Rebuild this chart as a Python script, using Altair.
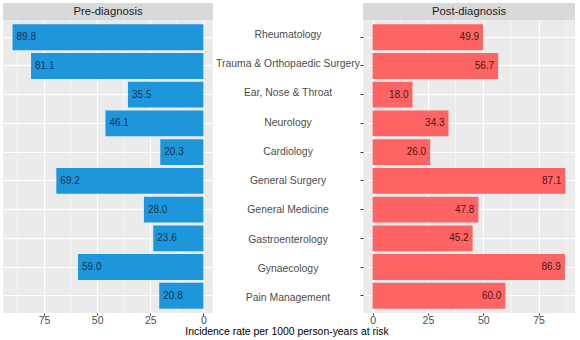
import altair as alt
import pandas as pd

categories = ["Rheumatology", "Trauma & Orthopaedic Surgery", "Ear, Nose & Throat",
              "Neurology", "Cardiology", "General Surgery", "General Medicine",
              "Gastroenterology", "Gynaecology", "Pain Management"]
pre_values = [89.8, 81.1, 35.5, 46.1, 20.3, 69.2, 28.0, 23.6, 59.0, 20.8]
post_values = [49.9, 56.7, 18.0, 34.3, 26.0, 87.1, 47.8, 45.2, 86.9, 60.0]
panel_titles = ["Pre-diagnosis", "Post-diagnosis"]
x_title = "Incidence rate per 1000 person-years at risk"
major_ticks = [0, 25, 50, 75]
minor_grid = [12.5, 37.5, 62.5, 87.5]

df = pd.DataFrame({"category": categories, "pre": pre_values, "post": post_values})
minor_df = pd.DataFrame({"v": minor_grid})

FONT = "Liberation Sans"
H = 293
WL, WM, WR = 210, 150, 212
HEADER = 17

yscale = alt.Scale(domain=categories, paddingInner=0.1, paddingOuter=0.15)


def xaxis():
    return alt.Axis(
        values=major_ticks, format="d", title=None, domain=False,
        tickColor="#333333", tickSize=2,
        gridColor="white", gridWidth=1.2,
        labelColor="#4D4D4D", labelFontSize=10.5, labelPadding=0.5, labelFont=FONT,
    )


def yaxis(orient):
    return alt.Axis(orient=orient, labels=False, title=None, domain=False,
                    ticks=True, tickSize=3, tickColor="#333333",
                    grid=True, gridColor="white", gridWidth=1.2, bandPosition=0.5)


def header(text, width):
    hdata = alt.Data(values=[{"t": text}])
    rect = alt.Chart(hdata).mark_rect(color="#D9D9D9").encode(
        x=alt.value(0), x2=alt.value(width), y=alt.value(-HEADER), y2=alt.value(0)
    )
    txt = alt.Chart(hdata).mark_text(
        font=FONT, fontSize=11.3, color="#1A1A1A", baseline="middle", align="center"
    ).encode(
        x=alt.value(width / 2), y=alt.value(-HEADER / 2 + 0.5), text="t:N"
    )
    return rect, txt


# Left panel
lscale = alt.Scale(domain=[-4.49, 94.29], reverse=True, nice=False, zero=False)
lminor = alt.Chart(minor_df).mark_rule(color="white", strokeWidth=0.6).encode(
    x=alt.X("v:Q", scale=lscale)
)
lbars = alt.Chart(df).mark_bar(color="#1E96DC").encode(
    y=alt.Y("category:N", scale=yscale, axis=yaxis("right"), sort=categories),
    x=alt.X("pre:Q", scale=lscale, axis=xaxis()),
)
ltext = alt.Chart(df).mark_text(font=FONT, fontSize=10, color="#14324F", align="left",
                                baseline="middle", dx=4).encode(
    y=alt.Y("category:N", scale=yscale, sort=categories),
    x=alt.X("pre:Q"),
    text=alt.Text("pre:Q", format=".1f"),
)
lh = header(panel_titles[0], WL)
left = alt.layer(lminor, lbars, ltext, *lh).properties(width=WL, height=H)

# Middle labels + shared x title
mtext = alt.Chart(df).mark_text(font=FONT, fontSize=10.4, color="#4D4D4D", align="center",
                                baseline="middle").encode(
    y=alt.Y("category:N", scale=yscale, axis=None, sort=categories),
    x=alt.value(WM / 2),
    text="category:N",
)
mtitle = alt.Chart(alt.Data(values=[{"t": x_title}])).mark_text(
    font=FONT, fontSize=10.4, color="#000000", align="center", baseline="middle"
).encode(x=alt.value(WM / 2 - 1), y=alt.value(H + 18.5), text="t:N")
middle = alt.layer(mtext, mtitle).properties(
    width=WM, height=H, view=alt.ViewBackground(fill="white", stroke=None)
)

# Right panel
rscale = alt.Scale(domain=[-4.355, 91.455], nice=False, zero=False)
rminor = alt.Chart(minor_df).mark_rule(color="white", strokeWidth=0.6).encode(
    x=alt.X("v:Q", scale=rscale)
)
rbars = alt.Chart(df).mark_bar(color="#FF6464").encode(
    y=alt.Y("category:N", scale=yscale, axis=yaxis("left"), sort=categories),
    x=alt.X("post:Q", scale=rscale, axis=xaxis()),
)
rtext = alt.Chart(df).mark_text(font=FONT, fontSize=10, color="#4A1414", align="right",
                                baseline="middle", dx=-4).encode(
    y=alt.Y("category:N", scale=yscale, sort=categories),
    x=alt.X("post:Q"),
    text=alt.Text("post:Q", format=".1f"),
)
rh = header(panel_titles[1], WR)
right = alt.layer(rminor, rbars, rtext, *rh).properties(width=WR, height=H)

chart = alt.hconcat(left, middle, right, spacing=0, bounds="flush").properties(
    padding={"left": 3, "top": 3, "right": 5, "bottom": 0},
    background="white",
).configure_view(fill="#EBEBEB", stroke=None).configure_concat(spacing=0)

chart.save("out.html", embed_options={"renderer": "svg", "actions": False})
